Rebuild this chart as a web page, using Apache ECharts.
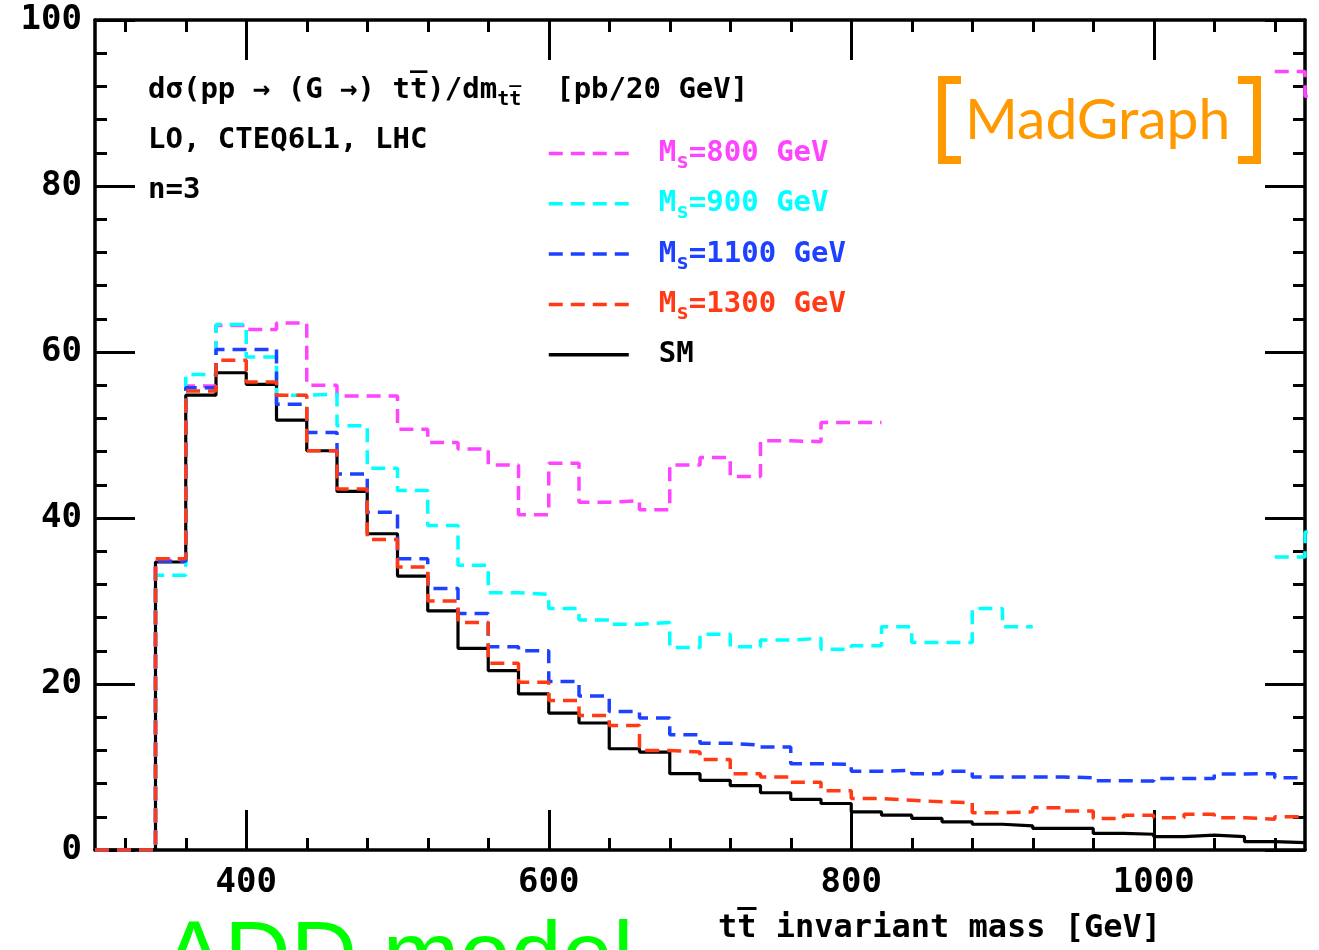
<!DOCTYPE html>
<html>
<head>
<meta charset="utf-8">
<title>ADD model - tt invariant mass</title>
<script src="https://cdn.jsdelivr.net/npm/echarts@6/dist/echarts.min.js"></script>
<style>
  html, body { margin: 0; padding: 0; background: #fff; }
  #chart { width: 1319px; height: 950px; }
</style>
</head>
<body>
<div id="chart"></div>
<script>
// left edges of the 20 GeV bins (last one only shows as a step at the frame)
var binLeft = [300, 320, 340, 360, 380, 400, 420, 440, 460, 480,
               500, 520, 540, 560, 580, 600, 620, 640, 660, 680,
               700, 720, 740, 760, 780, 800, 820, 840, 860, 880,
               900, 920, 940, 960, 980, 1000, 1020, 1040, 1060, 1080, 1100];
var binWidth = 20;

// dsigma/dm [pb/20 GeV]; null = outside the frame
var sm = [0, 0, 34.7, 54.8, 57.5, 56.1, 51.8, 48.1, 43.2, 38.1,
          33.0, 28.8, 24.3, 21.6, 18.8, 16.5, 15.3, 12.2, 11.8, 9.2,
          8.4, 7.75, 6.9, 6.1, 5.6, 4.6, 4.2, 3.8, 3.4, 3.1,
          2.9, 2.6, 2.6, 2.0, 1.9, 1.6, 1.8, 1.6, 1.0, 0.9, null];
var ms1300 = [0, 0, 35.1, 55.3, 59.0, 56.4, 54.8, 48.1, 43.5, 37.4,
              34.1, 30.0, 27.4, 22.5, 20.2, 18.0, 16.2, 15.0, 12.0, 11.8,
              10.9, 9.2, 8.8, 8.15, 7.15, 6.2, 6.0, 5.8, 5.7, 4.5,
              4.6, 5.1, 4.7, 3.8, 4.2, 3.9, 4.3, 3.9, 3.7, 4.0, null];
var ms1100 = [0, 0, 34.8, 55.7, 60.3, 60.3, 53.7, 50.3, 45.3, 40.7,
              35.1, 31.5, 28.5, 24.5, 24.0, 20.3, 18.55, 16.7, 15.9, 13.9,
              12.85, 12.65, 12.4, 10.4, 10.3, 9.5, 9.6, 9.2, 9.5, 8.8,
              8.8, 8.8, 8.7, 8.35, 8.3, 8.6, 8.6, 9.15, 9.2, 8.7, null];
var ms900 = [0, 0, 33.1, 57.3, 63.3, 59.4, 54.8, 54.9, 51.1, 46.0,
             43.3, 39.1, 34.3, 31.0, 30.8, 29.1, 27.7, 27.2, 27.4, 24.4,
             26.0, 24.5, 25.3, 25.5, 24.2, 24.6, 26.9, 25.0, 25.0, 29.1,
             26.9, null, null, null, null, null, null, null, null, 35.3, 38.3];
var ms800 = [0, 0, 35.0, 55.9, 63.2, 62.7, 63.5, 56.0, 54.7, 54.7,
             50.7, 49.1, 48.3, 46.4, 40.4, 46.6, 41.9, 42.1, 41.0, 46.4,
             47.3, 45.0, 49.3, 49.2, 51.5, 51.5, null, null, null, null,
             null, null, null, null, null, null, null, null, null, 93.8, 90.8];

var xMajor = [400, 600, 800, 1000];
var xMinor = [320, 360, 440, 480, 520, 560, 640, 680, 720, 760, 840, 880, 920, 960, 1040, 1080];

var FONT = '"DejaVu Sans Mono", monospace';
var C_MAG = '#ff44ff', C_CYAN = '#00ffff', C_BLUE = '#1e40ff', C_RED = '#ff3a14', C_BLACK = '#000000';

// histogram values -> points for a step:'end' line, closing every run at its right edge
function toSteps(vals) {
  var pts = [];
  for (var i = 0; i < vals.length; i++) {
    var v = vals[i];
    if (v === null) {
      if (pts.length && pts[pts.length - 1][1] !== '-') pts.push([binLeft[i], '-']);
      continue;
    }
    pts.push([binLeft[i], v]);
    if (i === vals.length - 1 || vals[i + 1] === null) pts.push([binLeft[i] + binWidth, v]);
  }
  return pts;
}

function histSeries(name, vals, color, dashed) {
  return {
    name: name,
    type: 'line',
    step: 'end',
    symbol: 'none',
    clip: true,
    data: toSteps(vals),
    itemStyle: { color: color },
    lineStyle: { color: color, width: dashed ? 3.5 : 3.2, type: dashed ? [14, 8] : 'solid' },
    emphasis: { disabled: true }
  };
}

var tickStyle = { color: '#000', width: 3 };
var frameLine = { show: true, lineStyle: { color: '#000', width: 3.5 } };
var numLabel = { fontFamily: FONT, fontWeight: 'bold', fontSize: 34, color: '#000' };
var plainNum = function (v) { return String(v); };

function xAxisOf(pos, ticks, len, withLine, withLabel) {
  return {
    type: 'value', position: pos, min: 300, max: 1100,
    axisLine: withLine ? frameLine : { show: false },
    axisTick: { show: true, inside: true, length: len, customValues: ticks, lineStyle: tickStyle },
    axisLabel: withLabel ? Object.assign({ customValues: ticks, margin: 16, formatter: plainNum }, numLabel) : { show: false },
    splitLine: { show: false }
  };
}

function yAxisOf(pos, withLabel) {
  return {
    type: 'value', position: pos, min: 0, max: 100, interval: 20,
    axisLine: frameLine,
    axisTick: { show: true, inside: true, length: 40, lineStyle: tickStyle },
    minorTick: { show: true, splitNumber: 5, length: 12, lineStyle: tickStyle },
    axisLabel: withLabel ? Object.assign({ margin: 13, formatter: plainNum }, numLabel) : { show: false },
    splitLine: { show: false }
  };
}

function legendItem(name, color) {
  return {
    name: name,
    textStyle: {
      color: color,
      rich: {
        m: { color: color, fontFamily: FONT, fontWeight: 'bold', fontSize: 29 },
        s: { color: color, fontFamily: FONT, fontWeight: 'bold', fontSize: 21, padding: [18, 0, 0, 0] }
      }
    }
  };
}

var txt = { fontFamily: FONT, fontWeight: 'bold', fontSize: 29, fill: '#000' };

var chart = echarts.init(document.getElementById('chart'));
chart.setOption({
  animation: false,
  backgroundColor: '#fff',
  grid: { left: 95, right: 14, top: 20, bottom: 100 },
  xAxis: [
    xAxisOf('bottom', xMajor, 40, true, true),
    xAxisOf('bottom', xMinor, 12, false, false),
    xAxisOf('top', xMajor, 40, true, false),
    xAxisOf('top', xMinor, 12, false, false)
  ],
  yAxis: [yAxisOf('left', true), yAxisOf('right', false)],
  legend: {
    orient: 'vertical', left: 547, top: 139, padding: 0,
    itemWidth: 80, itemHeight: 20, itemGap: 16.3,
    selectedMode: false,
    itemStyle: { opacity: 0 },
    lineStyle: { width: 3.5 },
    textStyle: { fontFamily: FONT, fontWeight: 'bold', fontSize: 29, padding: [0, 0, 0, 25] },
    data: [
      legendItem('Ms=800 GeV', C_MAG),
      legendItem('Ms=900 GeV', C_CYAN),
      legendItem('Ms=1100 GeV', C_BLUE),
      legendItem('Ms=1300 GeV', C_RED),
      legendItem('SM', C_BLACK)
    ],
    formatter: function (name) {
      if (name === 'SM') return '{m|SM}';
      return '{m|M}{s|s}{m|' + name.slice(2) + '}';
    }
  },
  series: [
    histSeries('SM', sm, C_BLACK, false),
    histSeries('Ms=800 GeV', ms800, C_MAG, true),
    histSeries('Ms=900 GeV', ms900, C_CYAN, true),
    histSeries('Ms=1100 GeV', ms1100, C_BLUE, true),
    histSeries('Ms=1300 GeV', ms1300, C_RED, true)
  ],
  graphic: [
    { type: 'text', left: 148, top: 76, style: {
        text: '{a|d\u03c3(pp \u2192 (G \u2192) tt\u0305)/dm}{b|tt\u0305}{a|  [pb/20 GeV]}',
        rich: {
          a: { fontFamily: FONT, fontWeight: 'bold', fontSize: 29, fill: '#000' },
          b: { fontFamily: FONT, fontWeight: 'bold', fontSize: 20, fill: '#000', padding: [18, 0, 0, 0] }
        } } },
    { type: 'text', left: 148, top: 126, style: Object.assign({ text: 'LO, CTEQ6L1, LHC' }, txt) },
    { type: 'text', left: 148, top: 176, style: Object.assign({ text: 'n=3' }, txt) },
    { type: 'polyline', shape: { points: [[961, 80], [942, 80], [942, 160], [961, 160]] },
      style: { stroke: '#ff9900', lineWidth: 8, fill: null } },
    { type: 'polyline', shape: { points: [[1238, 80], [1257, 80], [1257, 160], [1238, 160]] },
      style: { stroke: '#ff9900', lineWidth: 8, fill: null } },
    { type: 'text', left: 965, top: 92, style: {
        text: 'MadGraph', fontFamily: 'Lato, "Open Sans", sans-serif', fontSize: 57, fill: '#ff9900' } },
    { type: 'text', left: 718, top: 913, style: {
        text: 'tt\u0305 invariant mass [GeV]', fontFamily: FONT, fontWeight: 'bold', fontSize: 32, fill: '#000' } },
    { type: 'text', left: 163, top: 915, style: {
        text: 'ADD model', fontFamily: '"Liberation Sans", Arial, sans-serif', fontSize: 92, fill: '#00ff00' } }
  ]
});
</script>
</body>
</html>
